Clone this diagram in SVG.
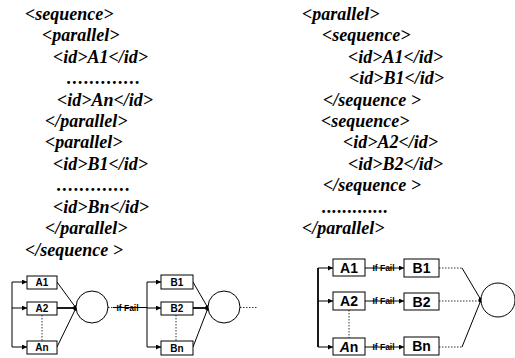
<svg xmlns="http://www.w3.org/2000/svg" width="515" height="358" viewBox="0 0 515 358">
  <style>
    .code { font-family: "Liberation Serif", "Times New Roman", serif; font-size: 18px; font-weight: bold; font-style: italic; fill: #000; }
    .box { fill: #fff; stroke: #000; stroke-width: 1; }
    .lbl-s { font-family: "Liberation Sans", Arial, sans-serif; font-size: 10px; font-weight: bold; fill: #000; text-anchor: middle; }
    .lbl-l { font-family: "Liberation Sans", Arial, sans-serif; font-size: 14px; font-weight: bold; fill: #000; text-anchor: middle; }
    .fail { font-family: "Liberation Sans", Arial, sans-serif; font-size: 8.5px; font-weight: bold; fill: #000; text-anchor: middle; }
    .ln { stroke: #000; stroke-width: 1; fill: none; }
    .thick { stroke: #000; stroke-width: 1.8; fill: none; }
    .dot { stroke: #000; stroke-width: 0.8; stroke-dasharray: 1.5 1.5; fill: none; }
    .node { fill: #fff; stroke: #000; stroke-width: 1; }
  </style>
  <defs>
    <marker id="arr" viewBox="0 0 6 6" refX="6" refY="3" markerWidth="5" markerHeight="5" orient="auto" markerUnits="userSpaceOnUse">
      <path d="M0,0 L6,3 L0,6 z" fill="#000"/>
    </marker>
  </defs>
  <rect width="515" height="358" fill="#fff"/>

  <!-- left listing: sequence of parallels -->
  <g id="code-left" class="code">
    <text x="25" y="20">&lt;sequence&gt;</text>
    <text x="42" y="41.4">&lt;parallel&gt;</text>
    <text x="53" y="62.8">&lt;id&gt;A1&lt;/id&gt;</text>
    <text x="67" y="84.2" textLength="73" lengthAdjust="spacing">.............</text>
    <text x="57" y="105.6">&lt;id&gt;An&lt;/id&gt;</text>
    <text x="45" y="127">&lt;/parallel&gt;</text>
    <text x="45" y="148.4">&lt;parallel&gt;</text>
    <text x="53" y="169.8">&lt;id&gt;B1&lt;/id&gt;</text>
    <text x="57" y="191.2" textLength="73" lengthAdjust="spacing">.............</text>
    <text x="53" y="212.6">&lt;id&gt;Bn&lt;/id&gt;</text>
    <text x="45" y="234">&lt;/parallel&gt;</text>
    <text x="25" y="256">&lt;/sequence &gt;</text>
  </g>

  <!-- right listing: parallel of sequences -->
  <g id="code-right" class="code">
    <text x="302" y="20">&lt;parallel&gt;</text>
    <text x="322" y="41.4">&lt;sequence&gt;</text>
    <text x="348" y="62.8">&lt;id&gt;A1&lt;/id&gt;</text>
    <text x="349" y="84.2">&lt;id&gt;B1&lt;/id&gt;</text>
    <text x="323" y="105.6">&lt;/sequence &gt;</text>
    <text x="321" y="127">&lt;sequence&gt;</text>
    <text x="343" y="148.4">&lt;id&gt;A2&lt;/id&gt;</text>
    <text x="348" y="169.8">&lt;id&gt;B2&lt;/id&gt;</text>
    <text x="323" y="191.2">&lt;/sequence &gt;</text>
    <text x="322" y="212.6" textLength="66" lengthAdjust="spacing">.............</text>
    <text x="302" y="234">&lt;/parallel&gt;</text>
  </g>

  <!-- connectors -->
  <g id="connectors">
    <!-- left net: split into A tasks -->
    <path class="ln" d="M12,282 V347"/>
    <path class="ln" d="M12,282 H27" marker-end="url(#arr)"/>
    <path class="ln" d="M12,308 H27" marker-end="url(#arr)"/>
    <path class="ln" d="M12,347 H27" marker-end="url(#arr)"/>
    <path class="dot" d="M42,315 V341"/>
    <path class="ln" d="M57,282 L76,308"/>
    <path class="thick" d="M57,308 H76"/>
    <path class="ln" d="M57,347 L76,308"/>
    <circle cx="76" cy="308" r="2.8" fill="#000"/>
    <!-- failure link to B tasks -->
    <path class="dot" d="M108,307.5 H113"/>
    <path class="ln" d="M113,307.5 H147"/>
    <path class="ln" d="M147,282 V347"/>
    <path class="ln" d="M147,282 H161" marker-end="url(#arr)"/>
    <path class="ln" d="M147,308 H161" marker-end="url(#arr)"/>
    <path class="ln" d="M147,347 H161" marker-end="url(#arr)"/>
    <path class="dot" d="M176,315 V341"/>
    <path class="ln" d="M193,282 L208,308"/>
    <path class="thick" d="M193,308 H208"/>
    <path class="ln" d="M193,347 L208,308"/>
    <circle cx="208" cy="308" r="2.8" fill="#000"/>
    <path class="dot" d="M240,307.5 H258"/>

    <!-- right net: parallel A to B chains -->
    <path class="thick" d="M318,268 V347"/>
    <path class="ln" d="M318,268 H333" marker-end="url(#arr)"/>
    <path class="ln" d="M318,301 H333" marker-end="url(#arr)"/>
    <path class="ln" d="M318,347 H333" marker-end="url(#arr)"/>
    <path class="dot" d="M349,310 V338"/>
    <path class="ln" d="M365,268 H404" marker-end="url(#arr)"/>
    <path class="ln" d="M365,301 H404" marker-end="url(#arr)"/>
    <path class="ln" d="M365,347 H404" marker-end="url(#arr)"/>
    <path class="dot" d="M439,268 H462"/>
    <path class="ln" d="M462,268 L481,300"/>
    <path class="dot" d="M439,301 H481"/>
    <path class="dot" d="M439,347 H462"/>
    <path class="ln" d="M462,347 L481,300"/>
    <circle cx="481" cy="300" r="2.5" fill="#000"/>
  </g>

  <!-- "If Fail" labels, struck through by their links -->
  <g id="fail-labels" class="fail">
    <text x="127.5" y="310.5">If Fail</text>
    <text x="383.5" y="271">If Fail</text>
    <text x="383.5" y="304">If Fail</text>
    <text x="383.5" y="350">If Fail</text>
  </g>

  <!-- left net nodes -->
  <g id="l-A1"><rect class="box" x="27" y="276" width="30" height="13"/><text class="lbl-s" x="42" y="286">A1</text></g>
  <g id="l-A2"><rect class="box" x="27" y="302" width="30" height="13"/><text class="lbl-s" x="42" y="312">A2</text></g>
  <g id="l-An"><rect class="box" x="27" y="341" width="30" height="13"/><text class="lbl-s" x="42" y="351">An</text></g>
  <g id="l-joinA"><circle class="node" cx="92" cy="307" r="16"/></g>
  <g id="l-B1"><rect class="box" x="161" y="275" width="32" height="14"/><text class="lbl-s" x="177" y="286">B1</text></g>
  <g id="l-B2"><rect class="box" x="161" y="302" width="32" height="13"/><text class="lbl-s" x="177" y="312">B2</text></g>
  <g id="l-Bn"><rect class="box" x="161" y="341" width="32" height="14"/><text class="lbl-s" x="177" y="352">Bn</text></g>
  <g id="l-joinB"><circle class="node" cx="224" cy="307" r="16"/></g>

  <!-- right net nodes -->
  <g id="r-A1"><rect class="box" x="333" y="259" width="32" height="17"/><text class="lbl-l" x="349" y="272.5">A1</text></g>
  <g id="r-A2"><rect class="box" x="333" y="292" width="32" height="18"/><text class="lbl-l" x="349" y="306">A2</text></g>
  <g id="r-An"><rect class="box" x="333" y="338" width="32" height="17"/><text class="lbl-l" x="349" y="351.5"><tspan font-style="italic">A</tspan>n</text></g>
  <g id="r-B1"><rect class="box" x="404" y="259" width="35" height="18"/><text class="lbl-l" x="421.5" y="273">B1</text></g>
  <g id="r-B2"><rect class="box" x="404" y="293" width="35" height="17"/><text class="lbl-l" x="421.5" y="306.5">B2</text></g>
  <g id="r-Bn"><rect class="box" x="404" y="337" width="35" height="18"/><text class="lbl-l" x="421.5" y="351">Bn</text></g>
  <g id="r-join"><circle class="node" cx="498" cy="300" r="17"/></g>
</svg>
